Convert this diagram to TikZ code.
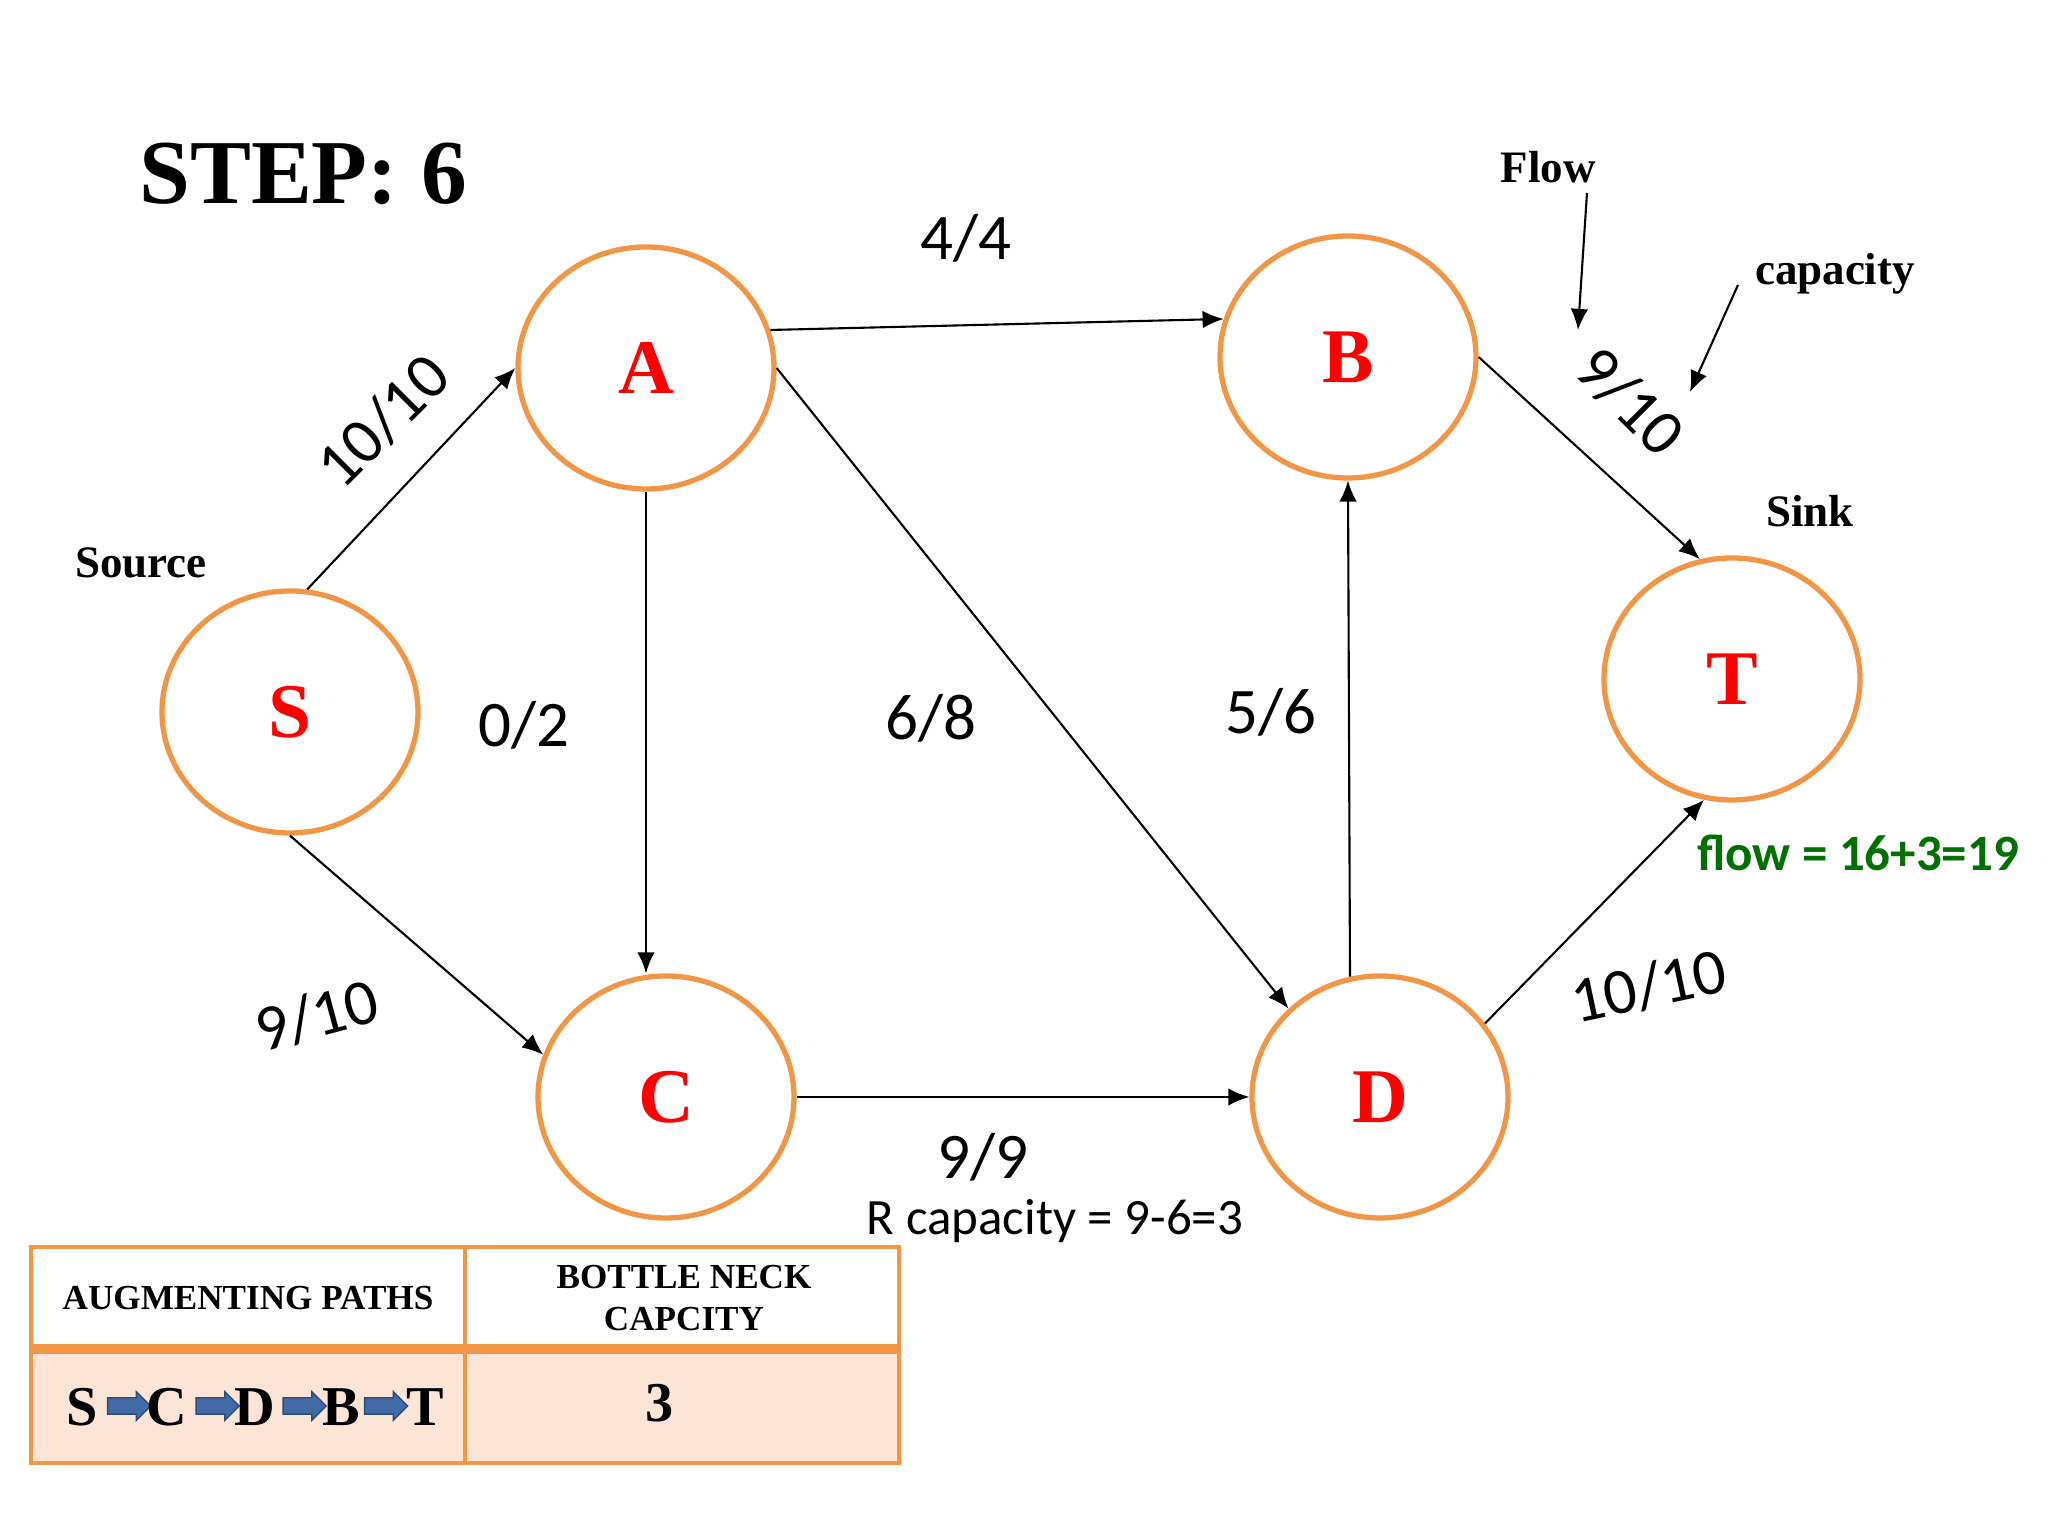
\documentclass[tikz,border=0pt]{standalone}
\usepackage{fontspec}
\setmainfont{Liberation Serif}
\newfontfamily\calibri{Carlito}
\usetikzlibrary{shapes.geometric,shapes.arrows,arrows.meta,positioning}
\definecolor{nodeorange}{RGB}{241,150,70}
\definecolor{tablepeach}{RGB}{252,229,214}
\definecolor{flowgreen}{RGB}{0,112,0}
\definecolor{pathblue}{RGB}{66,106,166}
\definecolor{pathedge}{RGB}{42,76,122}

\begin{document}
\begin{tikzpicture}[
    vertex/.style={ellipse, draw=nodeorange, line width=1.5pt, minimum width=2.56cm, minimum height=2.42cm, text=red, font=\fontsize{22}{26}\selectfont\bfseries},
    edge/.style={-{Latex[length=6pt,width=5pt]}, line width=0.6pt},
    wt/.style={font=\calibri\fontsize{18.5}{22}\selectfont},
    note/.style={font=\fontsize{12.8}{15}\selectfont\bfseries},
    cell/.style={font=\fontsize{10}{12}\selectfont\bfseries, align=center},
    pathtxt/.style={font=\fontsize{16}{19}\selectfont\bfseries, inner sep=0pt},
    patharrow/.style={single arrow, draw=pathedge, fill=pathblue, line width=0.4pt, minimum height=0.43cm, minimum width=0pt, single arrow head extend=0.06cm, inner sep=0.075cm}
  ]
  \useasboundingbox (0,0) rectangle (20.48,15.36);

  % Title and notes
  \node[font=\fontsize{26}{30}\selectfont\bfseries] (title) at (3.03,13.62) {STEP: 6};
  \node[note] (source) at (1.41,9.73) {Source};
  \node[note] (sink) at (18.10,10.25) {Sink};
  \node[note] (flowlbl) at (15.48,13.69) {Flow};
  \node[note] (caplbl) at (18.35,12.62) {capacity};
  \coordinate (flowtail) at (15.87,13.43);
  \coordinate (flowhead) at (15.78,12.06);
  \coordinate (captail) at (17.38,12.51);
  \coordinate (caphead) at (16.90,11.44);

  % Vertices
  \node[vertex] (S) at (2.90,8.24) {S};
  \node[vertex] (A) at (6.46,11.68) {A};
  \node[vertex] (B) at (13.48,11.79) {B};
  \node[vertex] (T) at (17.32,8.57) {T};
  \node[vertex] (C) at (6.66,4.39) {C};
  \node[vertex] (D) at (13.80,4.39) {D};

  % Edges
  \draw[edge] (S.82) -- (A.west);
  \draw[edge] (S.south) -- (C.161);
  \draw[edge] (A.17) -- (B.163);
  \draw[edge] (A.east) -- (D.136);
  \draw[edge] (A.south) -- (A.south |- C.north);
  \draw[edge] (C.east) -- (D.west);
  \draw[edge] (D.104) -- (B.south);
  \draw[edge] (D.35) -- (T.257);
  \draw[edge] (B.east) -- (T.105);
  \draw[edge] (flowtail) -- (flowhead);
  \draw[edge] (captail) -- (caphead);

  % Flow / capacity labels
  \node[wt, rotate=45] (wSA) at (3.83,11.15) {10/10};
  \node[wt, rotate=15] (wSC) at (3.17,5.20) {9/10};
  \node[wt] (wAB) at (9.66,12.98) {4/4};
  \node[wt] (wAC) at (5.24,8.11) {0/2};
  \node[wt] (wAD) at (9.31,8.18) {6/8};
  \node[wt] (wDB) at (12.71,8.24) {5/6};
  \node[wt] (wCD) at (9.83,3.79) {9/9};
  \node[wt, rotate=-45] (wBT) at (16.30,11.35) {9/10};
  \node[wt, rotate=12] (wDT) at (16.49,5.50) {10/10};
  \node[font=\calibri\fontsize{14.5}{17}\selectfont] (rcap) at (10.55,3.15) {R capacity = 9-6=3};
  \node[font=\calibri\fontsize{14.5}{17}\selectfont\bfseries, text=flowgreen] (total) at (18.58,6.83) {flow = 16+3=19};

  % Table
  \fill[tablepeach] (0.31,0.73) rectangle (8.99,1.87);
  \draw[nodeorange, line width=1.2pt] (0.31,0.73) rectangle (8.99,2.89);
  \draw[nodeorange, line width=1.2pt] (4.65,0.73) -- (4.65,2.89);
  \draw[nodeorange, line width=2.6pt] (0.31,1.87) -- (8.99,1.87);
  \node[cell] (hpath) at (2.48,2.38) {AUGMENTING PATHS};
  \node[cell] (hneck) at (6.84,2.38) {BOTTLE NECK\\CAPCITY};
  \node[pathtxt] (pS) at (0.82,1.29) {S};
  \node[patharrow] (a1) at (1.25,1.30) {};
  \node[pathtxt] (pC) at (1.665,1.29) {C};
  \node[patharrow] (a2) at (2.135,1.30) {};
  \node[pathtxt] (pD) at (2.545,1.29) {D};
  \node[patharrow] (a3) at (3.005,1.30) {};
  \node[pathtxt] (pB) at (3.415,1.29) {B};
  \node[patharrow] (a4) at (3.82,1.30) {};
  \node[pathtxt] (pT) at (4.25,1.29) {T};
  \node[pathtxt] (neck) at (6.60,1.33) {3};
\end{tikzpicture}
\end{document}
